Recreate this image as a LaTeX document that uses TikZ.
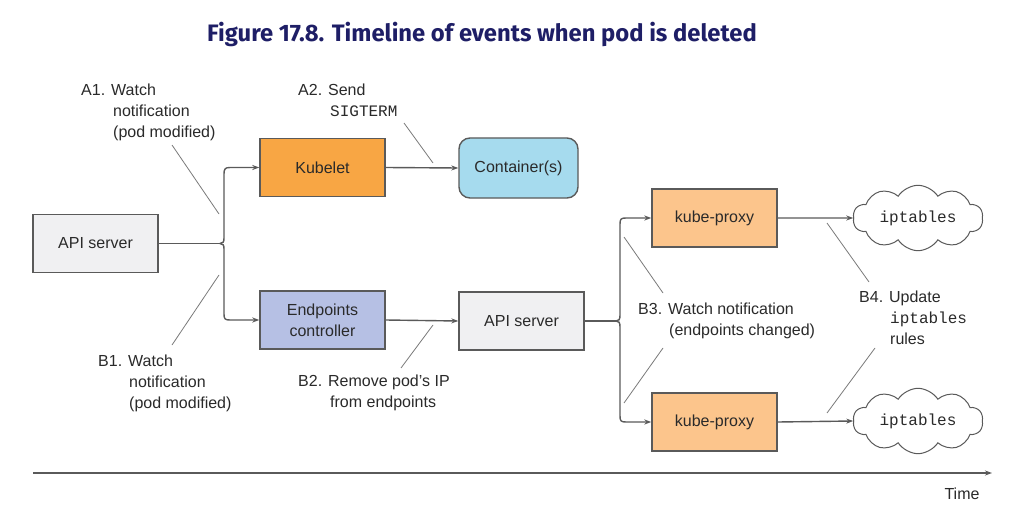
\documentclass[tikz,border=0pt]{standalone}
\usepackage{fontspec}
\setmainfont{Liberation Sans}
\setmonofont{Liberation Mono}
\newfontfamily\titlefont{Fira Sans}
\usetikzlibrary{shapes.symbols,arrows.meta}
\definecolor{kubeletc}{HTML}{F8A644}
\definecolor{proxyc}{HTML}{FCC58C}
\definecolor{epc}{HTML}{B6C0E4}
\definecolor{apic}{HTML}{F0F0F2}
\definecolor{contc}{HTML}{A6DBEE}
\definecolor{edgec}{HTML}{5A5A5A}
\definecolor{leadc}{HTML}{7A7A7A}
\definecolor{titlec}{HTML}{1E1E66}
\definecolor{txtc}{HTML}{2A2A2A}
\tikzset{
  box/.style={draw=edgec, line width=1.4pt, minimum width=125pt, minimum height=58pt, inner sep=0pt, align=center, text=txtc, font=\fontsize{16}{21}\selectfont},
  conn/.style={draw=edgec, line width=1.4pt},
  arr/.style={conn, -{Stealth[length=7pt,width=5pt]}},
  lead/.style={draw=leadc, line width=0.8pt},
  lbl/.style={anchor=north west, inner sep=0pt, align=left, text=txtc, font=\fontsize{16}{21}\selectfont},
  cloudbox/.style={cloud, cloud puffs=10, cloud puff arc=115, aspect=2.2, draw=edgec, line width=1pt, fill=white, minimum width=130pt, minimum height=60pt, inner sep=0pt, text=txtc, font=\ttfamily\fontsize{16}{21}\selectfont}
}
\begin{document}
\begin{tikzpicture}[x=1pt,y=-1pt]
\useasboundingbox[fill=white] (0,0) rectangle (1019,513);
% title
\node[font=\titlefont\bfseries\fontsize{23.8}{28}\selectfont, text=titlec, inner sep=0pt] (title) at (482,34) {Figure 17.8. Timeline of events when pod is deleted};
% boxes
\node[box, fill=apic] (api1) at (95.5,243.5) {API server};
\node[box, fill=kubeletc] (kubelet) at (322.5,167.5) {Kubelet};
\node[box, fill=epc] (ep) at (322.5,320) {Endpoints\\controller};
\node[box, fill=contc, rounded corners=11pt, minimum width=119pt, minimum height=60pt] (cont) at (518.5,168) {Container(s)};
\node[box, fill=apic] (api2) at (521.5,321) {API server};
\node[box, fill=proxyc] (kp1) at (714.5,218) {kube-proxy};
\node[box, fill=proxyc] (kp2) at (714.5,422) {kube-proxy};
\node[cloudbox] (ipt1) at (918,218) {iptables};
\node[cloudbox] (ipt2) at (918,421) {iptables};
% junctions
\coordinate (j1) at (220,243.5);
\coordinate (j2) at (616,321);
% connectors
\draw[conn] (api1.east) -- (j1);
\draw[arr] (j1) .. controls (223,243.5) and (224,242) .. (224,238) -- (224,174) .. controls (224,169) and (225,167.5) .. (230,167.5) -- (kubelet.west);
\draw[arr] (j1) .. controls (223,243.5) and (224,245) .. (224,249) -- (224,314) .. controls (224,319) and (225,320) .. (230,320) -- (ep.west);
\draw[arr] (kubelet.east) -- (cont.west);
\draw[arr] (ep.east) -- (api2.west);
\draw[conn] (api2.east) -- (j2);
\draw[arr] (j2) .. controls (619,321) and (620,319.5) .. (620,315) -- (620,224) .. controls (620,219) and (621,218) .. (626,218) -- (kp1.west);
\draw[arr] (j2) .. controls (619,321) and (620,322.5) .. (620,327) -- (620,416) .. controls (620,421) and (621,422) .. (626,422) -- (kp2.west);
\draw[arr] (kp1.east) -- (ipt1.west);
\draw[arr] (kp2.east) -- (ipt2.west);
% labels
\node[lbl] (a1) at (81,84) {A1. Watch\\\hspace*{32pt}notification\\\hspace*{32pt}(pod modified)};
\node[lbl] (b1) at (98,355) {B1. Watch\\\hspace*{31pt}notification\\\hspace*{31pt}(pod modified)};
\node[lbl] (a2) at (298,84) {A2. Send\\\hspace*{32pt}\texttt{SIGTERM}};
\node[lbl] (b2) at (298,375) {B2. Remove pod's IP\\\hspace*{32pt}from endpoints};
\node[lbl] (b3) at (638,303) {B3. Watch notification\\\hspace*{31pt}(endpoints changed)};
\node[lbl] (b4) at (859,291) {B4. Update\\\hspace*{31pt}\texttt{iptables}\\\hspace*{31pt}rules};
% leader lines
\coordinate (la1s) at (172,145); \coordinate (la1e) at (219,214);
\coordinate (lb1s) at (219,275); \coordinate (lb1e) at (172,345);
\coordinate (la2s) at (404,123); \coordinate (la2e) at (433,163);
\coordinate (lb2s) at (433,325); \coordinate (lb2e) at (401,368);
\coordinate (lb3s) at (624,237); \coordinate (lb3e) at (663,293);
\coordinate (lb3t) at (663,348); \coordinate (lb3u) at (624,403);
\coordinate (lb4s) at (827,223); \coordinate (lb4e) at (869,282);
\coordinate (lb4t) at (875,348); \coordinate (lb4u) at (827,413);
\draw[lead] (la1s) -- (la1e);
\draw[lead] (lb1s) -- (lb1e);
\draw[lead] (la2s) -- (la2e);
\draw[lead] (lb2s) -- (lb2e);
\draw[lead] (lb3s) -- (lb3e);
\draw[lead] (lb3t) -- (lb3u);
\draw[lead] (lb4s) -- (lb4e);
\draw[lead] (lb4t) -- (lb4u);
% time axis
\coordinate (ts) at (33,473);
\coordinate (te) at (992,473);
\draw[arr, line width=1.2pt] (ts) -- (te);
\node[lbl, anchor=center] (time) at (962,494) {Time};
\end{tikzpicture}
\end{document}
